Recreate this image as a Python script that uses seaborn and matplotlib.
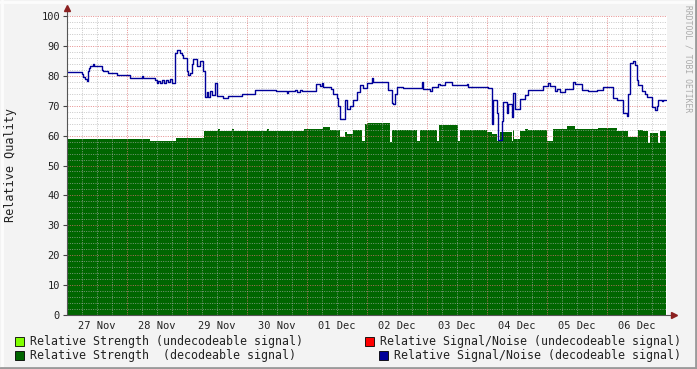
import matplotlib
matplotlib.use("Agg")
import matplotlib.pyplot as plt
import seaborn as sns
import pandas as pd
from matplotlib.patches import Rectangle
from matplotlib.lines import Line2D

# ---------------- data (hours since 27 Nov 00:00) ----------------
day_labels = ["27 Nov", "28 Nov", "29 Nov", "30 Nov", "01 Dec",
              "02 Dec", "03 Dec", "04 Dec", "05 Dec", "06 Dec"]
y_ticks = [0, 10, 20, 30, 40, 50, 60, 70, 80, 90, 100]

sn_hours = [0, 5.9, 6.5, 7.2, 7.9, 8.4, 8.8, 9.2, 10.3, 10.8, 13.9, 14.5, 16.4, 19.9,
            25.2, 29.9, 30.4, 35.2, 35.9, 36.4, 37.2, 38.0, 38.8, 39.6, 40.4, 41.2, 42.0,
            43.2, 43.9, 45.2, 45.9, 46.5, 47.9, 48.5, 49.2, 49.9, 50.5, 51.9, 53.2, 54.5,
            55.2, 55.9, 56.5, 57.2, 57.9, 59.2, 60.0, 62.4, 64.4, 70.0, 75.2, 83.6, 87.9,
            88.4, 91.2, 92.0, 93.2, 94.0, 99.6, 101.2, 102.0, 102.4, 105.6, 106.5, 107.9,
            108.5, 109.2, 111.2, 111.9, 113.2, 114.5, 115.9, 117.2, 118.5, 119.9, 121.9,
            122.5, 128.5, 129.9, 130.5, 131.2, 131.9, 134.5, 141.9, 142.5, 145.2, 145.9,
            148.5, 149.2, 151.2, 153.9, 159.9, 160.5, 168.5, 169.9, 170.5, 171.9, 172.5,
            173.9, 174.5, 175.9, 176.5, 177.9, 178.5, 179.2, 181.2, 183.2, 184.5, 190.5,
            192.4, 193.2, 195.2, 195.9, 197.2, 199.2, 202.5, 203.2, 205.9, 208.5, 211.9,
            214.5, 218.5, 219.9, 222.5, 223.9, 224.5, 225.2, 226.5, 227.2, 227.9, 228.5,
            229.9, 231.2, 231.9, 233.9, 235.2, 235.9, 236.5, 237.9, 238.5, 239.6]
sn_values = [81.2, 80.5, 79.5, 78.8, 78.2, 81.5, 82.5, 83.2, 84.0, 83.2, 82.0, 81.6, 81.0, 80.2,
             79.4, 80.1, 79.4, 78.5, 77.6, 78.2, 77.5, 78.5, 77.5, 78.6, 77.8, 79.0, 77.6,
             87.5, 88.6, 87.5, 86.8, 85.8, 81.5, 80.3, 81.0, 84.0, 85.5, 83.2, 85.0, 81.5,
             73.0, 74.5, 73.0, 75.0, 73.5, 77.5, 73.2, 72.5, 73.2, 74.0, 75.3, 74.8, 74.3,
             74.8, 75.2, 74.6, 75.3, 74.8, 77.2, 76.5, 77.7, 76.4, 75.5, 74.0, 72.5,
             70.0, 65.5, 72.0, 68.8, 70.0, 72.0, 74.6, 77.0, 76.0, 77.7, 79.2,
             78.0, 75.3, 71.0, 70.5, 74.0, 76.4, 76.0, 78.0, 75.5, 75.0, 76.4,
             77.3, 76.8, 78.0, 76.8, 77.2, 76.3, 75.8, 64.0, 72.0, 67.4, 58.5,
             65.0, 71.4, 67.4, 70.6, 66.2, 74.2, 69.0, 72.2, 73.6, 75.3, 76.6,
             77.5, 76.6, 75.0, 75.6, 74.7, 75.6, 77.8, 77.2, 75.3, 74.8, 75.3,
             76.2, 72.5, 72.0, 67.5, 66.5, 74.0, 84.2, 85.0, 83.5, 78.5, 77.0,
             75.0, 74.0, 73.0, 69.5, 68.5, 70.0, 72.0, 71.6, 72.0, 72.0]

str_hours = [0, 33.2, 43.6, 54.8, 60.4, 61.2, 66.0, 66.8, 80.0, 80.8, 94.8, 102.4, 105.2,
             109.2, 111.2, 112.0, 114.4, 118.0, 119.2, 120.0, 129.2, 130.0, 140.0, 141.2,
             148.0, 148.8, 156.4, 157.2, 168.0, 170.0, 172.0, 173.2, 178.0, 178.4, 178.8,
             181.2, 183.2, 184.4, 192.0, 194.4, 200.0, 203.2, 212.4, 220.0, 224.4, 228.4,
             230.4, 232.4, 233.2, 236.4, 237.2, 239.6]
str_values = [59.0, 58.3, 59.2, 61.5, 62.3, 61.5, 62.2, 61.5, 62.2, 61.5, 62.1, 62.8, 61.8,
              59.4, 61.3, 60.6, 62.0, 58.2, 63.8, 64.3, 58.0, 61.9, 58.2, 61.9,
              58.2, 63.6, 58.2, 62.0, 61.3, 60.6, 58.2, 61.3, 58.2, 61.9, 59.0,
              61.4, 62.2, 61.9, 58.3, 62.2, 63.2, 62.2, 62.7, 61.4, 59.4, 62.0,
              61.4, 57.5, 61.0, 57.5, 61.4, 61.4]

legend_labels = ["Relative Strength (undecodeable signal)",
                 "Relative Strength  (decodeable signal)",
                 "Relative Signal/Noise (undecodeable signal)",
                 "Relative Signal/Noise (decodeable signal)"]
legend_colors = ["#80ff00", "#006600", "#ff0000", "#000099"]

# ---------------- figure ----------------
sns.set_style("white")
plt.rcParams["font.family"] = ["DejaVu Sans Mono", "DejaVu Sans"]

W, H = 697, 369
fig = plt.figure(figsize=(W / 100, H / 100), dpi=100, facecolor="#f3f3f3")
ax = fig.add_axes([67 / W, 1 - 315 / H, 600 / W, 299 / H])
ax.set_facecolor("white")

df_str = pd.DataFrame({"hour": str_hours, "value": str_values})
df_sn = pd.DataFrame({"hour": sn_hours, "value": sn_values})

ax.fill_between(df_str["hour"], 0, df_str["value"], step="post",
                color="#006600", linewidth=0, zorder=2)
sns.lineplot(data=df_sn, x="hour", y="value", ax=ax, estimator=None,
             drawstyle="steps-post", color="#000099", linewidth=1.0, zorder=4)

ax.set_xlim(0, 240)
ax.set_ylim(0, 100)

# grid (drawn over the data like rrdtool)
dot = (0, (1.0, 1.4))
for h in range(6, 240, 6):
    if h % 24:
        ax.axvline(h, color="#b0b0b0", lw=0.7, ls=dot, alpha=0.7, zorder=3)
for h in range(24, 240, 24):
    ax.axvline(h, color="#e07070", lw=0.7, ls=dot, alpha=0.8, zorder=3)
for v in range(2, 100, 2):
    if v % 10:
        ax.axhline(v, color="#b0b0b0", lw=0.7, ls=dot, alpha=0.7, zorder=3)
for v in range(10, 101, 10):
    ax.axhline(v, color="#e07070", lw=0.7, ls=dot, alpha=0.8, zorder=3)

for s in ax.spines.values():
    s.set_visible(False)

ax.set_xticks([12 + 24 * i for i in range(len(day_labels))])
ax.set_xticklabels(day_labels)
ax.set_yticks(y_ticks)
ax.set_yticklabels([str(t) for t in y_ticks])
ax.tick_params(axis="x", length=0, pad=4, labelsize=7.5, colors="#222222")
ax.tick_params(axis="y", length=3, width=0.8, color="#444444", pad=2,
               labelsize=7.5, labelcolor="#222222", left=True)
ax.set_xlabel("")
ax.set_ylabel("")

# axes lines with arrows
ax.add_line(Line2D([0, 0], [0, 1.02], transform=ax.transAxes, color="#555555",
                   lw=0.8, clip_on=False, zorder=6))
ax.add_line(Line2D([0, 1.01], [0, 0], transform=ax.transAxes, color="#555555",
                   lw=0.8, clip_on=False, zorder=6))
ax.plot([0], [1.027], marker="^", ms=4, color="#8b2020", transform=ax.transAxes,
        clip_on=False, zorder=7)
ax.plot([1.012], [0], marker=">", ms=4, color="#8b2020", transform=ax.transAxes,
        clip_on=False, zorder=7)

fig.text(11 / W, 1 - 165 / H, "Relative Quality", rotation=90, fontsize=8.5,
         ha="center", va="center", color="#222222")
fig.text(688 / W, 1 - 5 / H, "RRDTOOL / TOBI OETIKER", rotation=270, fontsize=5.8,
         ha="center", va="top", color="#aaaaaa")

# legend
entries = [(15, 341, 0), (15, 355, 1), (365, 341, 2), (379, 355, 3)]
for x0, yc, i in entries:
    fig.add_artist(Rectangle((x0 / W, 1 - (yc + 5) / H), 9 / W, 9 / H,
                             transform=fig.transFigure, facecolor=legend_colors[i],
                             edgecolor="black", linewidth=0.6))
    fig.text((x0 + 15) / W, 1 - yc / H, legend_labels[i], fontsize=8.4,
             ha="left", va="center", color="#222222")

# frame
fig.add_artist(Line2D([0, 1], [1 - 1.5 / H, 1 - 1.5 / H], transform=fig.transFigure,
                      color="#fcfcfc", lw=2))
fig.add_artist(Line2D([1.5 / W, 1.5 / W], [0, 1], transform=fig.transFigure,
                      color="#fcfcfc", lw=2))
fig.add_artist(Line2D([0, 1], [1.5 / H, 1.5 / H], transform=fig.transFigure,
                      color="#9a9a9a", lw=2))
fig.add_artist(Line2D([1 - 1.5 / W, 1 - 1.5 / W], [0, 1], transform=fig.transFigure,
                      color="#9a9a9a", lw=2))

fig.savefig("out.png", dpi=100, facecolor=fig.get_facecolor())
